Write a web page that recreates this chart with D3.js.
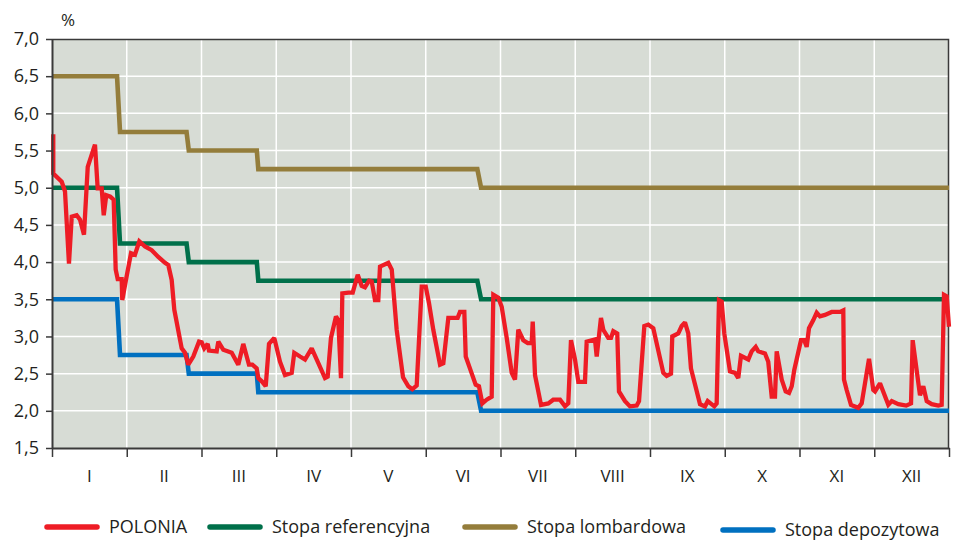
<!DOCTYPE html>
<html>
<head>
<meta charset="utf-8">
<script src="https://cdn.jsdelivr.net/npm/d3@7"></script>
<style>
  body { margin: 0; background: #fff; }
  svg text { font-family: "Open Sans", "Noto Sans", sans-serif; fill: #231f20; }
</style>
</head>
<body>
<div id="chart"></div>
<script>
// month labels (x axis)
var months = ["I","II","III","IV","V","VI","VII","VIII","IX","X","XI","XII"];
var yTicks = [1.5,2.0,2.5,3.0,3.5,4.0,4.5,5.0,5.5,6.0,6.5,7.0];

// [month position, %]
var polonia = [
  [0.017,5.72],[0.017,5.19],[0.130,5.08],[0.174,4.95],[0.227,3.98],[0.264,4.61],[0.330,4.63],
  [0.375,4.57],[0.428,4.37],[0.478,5.28],[0.575,5.58],[0.611,4.99],[0.665,4.99],[0.692,4.63],
  [0.726,4.90],[0.780,4.88],[0.825,4.84],[0.852,3.90],[0.879,3.77],[0.932,3.77],[0.940,3.49],
  [0.999,3.81],[1.057,4.12],[1.110,4.10],[1.168,4.28],[1.244,4.21],[1.334,4.16],[1.422,4.07],
  [1.512,3.99],[1.556,3.96],[1.601,3.76],[1.636,3.36],[1.735,2.84],[1.779,2.78],[1.823,2.62],
  [1.890,2.73],[1.967,2.93],[2.003,2.92],[2.037,2.84],[2.083,2.90],[2.100,2.81],[2.203,2.80],
  [2.225,2.93],[2.292,2.82],[2.404,2.78],[2.492,2.62],[2.559,2.90],[2.635,2.62],[2.680,2.62],
  [2.738,2.57],[2.760,2.44],[2.813,2.39],[2.859,2.33],[2.903,2.90],[2.974,2.98],[3.050,2.66],
  [3.117,2.48],[3.207,2.51],[3.241,2.78],[3.318,2.73],[3.385,2.69],[3.474,2.84],[3.563,2.64],
  [3.652,2.44],[3.688,2.46],[3.732,2.98],[3.799,3.27],[3.830,3.22],[3.866,2.44],[3.884,3.58],
  [3.964,3.59],[4.023,3.59],[4.090,3.83],[4.143,3.68],[4.187,3.66],[4.241,3.75],[4.277,3.74],
  [4.321,3.49],[4.365,3.49],[4.388,3.94],[4.499,3.99],[4.545,3.90],[4.611,3.09],[4.696,2.45],
  [4.767,2.33],[4.820,2.29],[4.879,2.34],[4.946,3.67],[5.000,3.67],[5.043,3.45],[5.101,3.09],
  [5.191,2.62],[5.235,2.64],[5.302,3.25],[5.427,3.25],[5.458,3.33],[5.516,3.33],[5.535,2.73],
  [5.605,2.53],[5.668,2.35],[5.712,2.33],[5.757,2.10],[5.815,2.15],[5.882,2.19],[5.904,3.56],
  [5.971,3.52],[6.016,3.40],[6.083,2.98],[6.150,2.51],[6.194,2.42],[6.238,3.09],[6.305,2.95],
  [6.364,2.91],[6.417,2.91],[6.431,3.20],[6.462,2.48],[6.542,2.08],[6.640,2.10],[6.706,2.15],
  [6.796,2.15],[6.863,2.06],[6.907,2.10],[6.943,2.95],[6.997,2.69],[7.041,2.39],[7.130,2.39],
  [7.153,2.93],[7.264,2.96],[7.287,2.73],[7.344,3.25],[7.375,3.09],[7.442,2.98],[7.478,2.98],
  [7.509,3.07],[7.562,3.04],[7.585,2.26],[7.666,2.13],[7.732,2.06],[7.822,2.07],[7.853,2.13],
  [7.924,3.14],[7.977,3.16],[8.044,3.11],[8.178,2.51],[8.223,2.47],[8.281,2.50],[8.298,3.00],
  [8.378,3.04],[8.424,3.14],[8.468,3.19],[8.512,3.04],[8.548,2.57],[8.669,2.09],[8.736,2.06],
  [8.772,2.13],[8.860,2.06],[8.892,2.10],[8.923,3.49],[8.959,3.47],[8.994,3.04],[9.070,2.53],
  [9.137,2.51],[9.181,2.44],[9.217,2.74],[9.315,2.69],[9.360,2.80],[9.414,2.86],[9.448,2.80],
  [9.538,2.77],[9.582,2.66],[9.628,2.19],[9.672,2.19],[9.695,2.80],[9.762,2.42],[9.815,2.26],
  [9.860,2.24],[9.896,2.33],[9.930,2.55],[10.020,2.95],[10.064,2.95],[10.096,2.86],[10.127,3.11],
  [10.185,3.22],[10.230,3.32],[10.274,3.27],[10.341,3.29],[10.431,3.33],[10.542,3.33],[10.586,3.35],
  [10.595,2.42],[10.631,2.28],[10.689,2.08],[10.786,2.04],[10.832,2.10],[10.930,2.70],[10.987,2.28],
  [11.010,2.26],[11.077,2.37],[11.188,2.08],[11.234,2.13],[11.322,2.09],[11.428,2.07],[11.492,2.10],
  [11.514,2.95],[11.612,2.21],[11.656,2.33],[11.702,2.13],[11.769,2.09],[11.857,2.07],[11.902,2.08],
  [11.933,3.56],[11.969,3.54],[12.0,3.13]
];
var referencyjna = [[0,5.0],[0.87,5.0],[0.91,4.25],[1.80,4.25],[1.83,4.0],[2.74,4.0],[2.76,3.75],[5.69,3.75],[5.74,3.5],[12,3.5]];
var lombardowa   = [[0,6.5],[0.87,6.5],[0.91,5.75],[1.80,5.75],[1.83,5.5],[2.74,5.5],[2.76,5.25],[5.69,5.25],[5.74,5.0],[12,5.0]];
var depozytowa   = [[0,3.5],[0.87,3.5],[0.91,2.75],[1.80,2.75],[1.83,2.5],[2.74,2.5],[2.76,2.25],[5.69,2.25],[5.74,2.0],[12,2.0]];

var seriesNames = ["POLONIA","Stopa referencyjna","Stopa lombardowa","Stopa depozytowa"];
var seriesColors = ["#ee1c25","#00704a","#947d3b","#0070c0"];

var W = 955, H = 542;
var margin = {left:52, right:6, top:39, bottom:94};
var iw = W - margin.left - margin.right, ih = H - margin.top - margin.bottom;

var svg = d3.select("#chart").append("svg").attr("width", W).attr("height", H);
var g = svg.append("g").attr("transform", "translate(" + margin.left + "," + margin.top + ")");

var x = d3.scaleLinear().domain([0, 12]).range([0, iw]);
var y = d3.scaleLinear().domain([1.5, 7.0]).range([ih, 0]);
var fmt = d3.formatLocale({decimal: ",", thousands: " ", grouping: [3], currency: ["", ""]}).format(".1f");

g.append("rect").attr("width", iw).attr("height", ih).attr("fill", "#d7dcd5");

// grid
g.selectAll(".hg").data(yTicks.slice(1)).enter().append("line")
  .attr("x1", 0).attr("x2", iw).attr("y1", function(d){ return y(d); }).attr("y2", function(d){ return y(d); })
  .attr("stroke", "#fff").attr("stroke-width", 1.5);
g.selectAll(".vg").data(d3.range(1, 12)).enter().append("line")
  .attr("x1", function(d){ return x(d); }).attr("x2", function(d){ return x(d); }).attr("y1", 0).attr("y2", ih)
  .attr("stroke", "#fff").attr("stroke-width", 1.5);

// top/right frame
g.append("path").attr("d", "M0,0.5H" + (iw - 0.5) + "V" + ih).attr("fill", "none").attr("stroke", "#3a3a3a").attr("stroke-width", 1.5);

var line = d3.line().x(function(d){ return x(d[0]); }).y(function(d){ return y(d[1]); }).curve(d3.curveLinear);
var all = [polonia, referencyjna, lombardowa, depozytowa];
[3, 1, 2, 0].forEach(function(i){
  g.append("path").datum(all[i]).attr("d", line).attr("fill", "none")
    .attr("stroke", seriesColors[i]).attr("stroke-width", i === 0 ? 4.3 : 4.6)
    .attr("stroke-linejoin", "miter").attr("stroke-miterlimit", 2);
});

// axes
var ya = g.append("g").call(d3.axisLeft(y).tickValues(yTicks).tickFormat(fmt).tickSize(6).tickSizeOuter(0));
ya.select(".domain").attr("stroke", "#3a3a3a").attr("stroke-width", 2);
ya.selectAll(".tick line").attr("stroke", "#3a3a3a").attr("stroke-width", 1.5);
ya.selectAll(".tick text").attr("x", -13).style("font-size", "18px").attr("fill", "#231f20");

var xa = g.append("g").attr("transform", "translate(0," + ih + ")")
  .call(d3.axisBottom(x).tickValues(d3.range(0, 13)).tickFormat("").tickSize(9).tickSizeOuter(0));
xa.select(".domain").attr("stroke", "#3a3a3a").attr("stroke-width", 2);
xa.selectAll(".tick line").attr("stroke", "#3a3a3a").attr("stroke-width", 1.5);

g.selectAll(".ml").data(months).enter().append("text")
  .attr("x", function(d, i){ return x(i + 0.5); }).attr("y", ih + 34)
  .attr("text-anchor", "middle").style("font-size", "17px").text(function(d){ return d; });

svg.append("text").attr("x", 61).attr("y", 26).style("font-size", "17px").text("%");

// legend
var legX = [47, 210, 465, 723];
var leg = svg.selectAll(".leg").data(seriesNames).enter().append("g")
  .attr("transform", function(d, i){ return "translate(" + legX[i] + "," + (i === 3 ? 530 : 527) + ")"; });
leg.append("line").attr("x1", 0).attr("x2", 50).attr("y1", 0).attr("y2", 0)
  .attr("stroke", function(d, i){ return seriesColors[i]; }).attr("stroke-width", 5.5).attr("stroke-linecap", "round");
leg.append("text").attr("x", 62).attr("y", 6).style("font-size", "18px").text(function(d){ return d; });
</script>
</body>
</html>
